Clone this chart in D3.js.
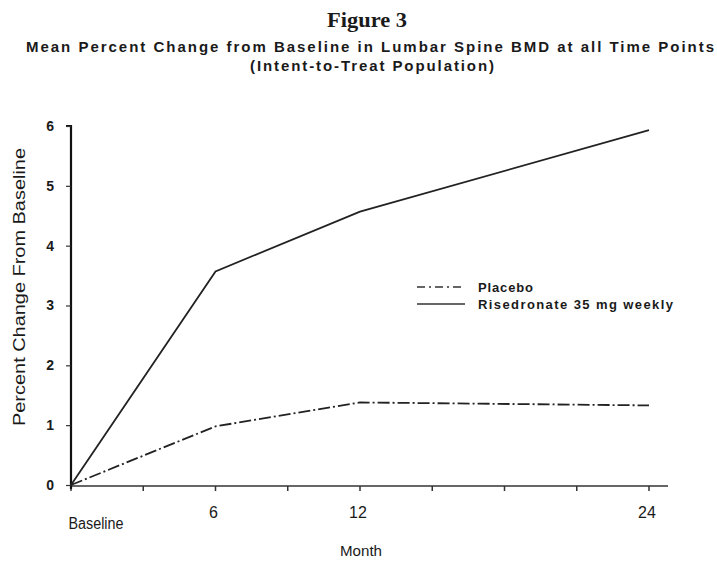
<!DOCTYPE html>
<html>
<head>
<meta charset="utf-8">
<script src="https://cdn.jsdelivr.net/npm/d3@7"></script>
<style>
  body { margin: 0; background: #fff; }
  text { fill: #1a1a1a; }
</style>
</head>
<body>
<script>
var width = 717,
    height = 561;

// data
var months = [0, 6, 12, 24];
var placebo = [0, 0.98, 1.38, 1.33];
var risedronate = [0, 3.57, 4.57, 5.93];
var xTickValues = [0, 3, 6, 9, 12, 15, 18, 21, 24];
var xTickLabels = {0: 'Baseline', 6: '6', 12: '12', 24: '24'};
var yTickValues = [0, 1, 2, 3, 4, 5, 6];
var seriesNames = ['Placebo', 'Risedronate 35 mg weekly'];

var svg = d3.select('body').append('svg')
    .attr('width', width)
    .attr('height', height);

var x = d3.scaleLinear().domain([0, 24]).range([71, 649]),
    y = d3.scaleLinear().domain([0, 6]).range([485, 126]);

var sans = '"Liberation Sans", Arial, sans-serif';

// titles
svg.append('text')
    .attr('x', 367).attr('y', 27)
    .attr('text-anchor', 'middle')
    .attr('textLength', 80)
    .attr('lengthAdjust', 'spacingAndGlyphs')
    .style('font-family', '"Liberation Serif", "DejaVu Serif", serif')
    .style('font-weight', 'bold')
    .style('font-size', '20px')
    .text('Figure 3');

svg.append('text')
    .attr('x', 370).attr('y', 52)
    .attr('text-anchor', 'middle')
    .attr('textLength', 688)
    .attr('lengthAdjust', 'spacing')
    .style('font-family', sans)
    .style('font-size', '15px')
    .style('font-weight', 'bold')
    .text('Mean Percent Change from Baseline in Lumbar Spine BMD at all Time Points');

svg.append('text')
    .attr('x', 372).attr('y', 71)
    .attr('text-anchor', 'middle')
    .attr('textLength', 244)
    .attr('lengthAdjust', 'spacing')
    .style('font-family', sans)
    .style('font-size', '15px')
    .style('font-weight', 'bold')
    .text('(Intent-to-Treat Population)');

// x axis (drawn a bit past 24 like the original)
svg.append('line')
    .attr('x1', x(0)).attr('x2', 668)
    .attr('y1', y(0) + 1).attr('y2', y(0) + 1)
    .attr('stroke', '#666')
    .attr('stroke-width', 2);

svg.append('g').selectAll('line')
    .data(xTickValues)
    .enter().append('line')
    .attr('x1', function(d) { return x(d); })
    .attr('x2', function(d) { return x(d); })
    .attr('y1', y(0) + 1)
    .attr('y2', y(0) + 6)
    .attr('stroke', '#333')
    .attr('stroke-width', 1.5);

svg.append('g').selectAll('text')
    .data(xTickValues.filter(function(d) { return xTickLabels[d]; }))
    .enter().append('text')
    .attr('x', function(d) { return d === 0 ? x(d) + 25 : x(d) - 2; })
    .attr('y', function(d) { return d === 0 ? 529 : 518; })
    .attr('text-anchor', 'middle')
    .attr('textLength', function(d) { return d === 0 ? 55 : null; })
    .attr('lengthAdjust', 'spacingAndGlyphs')
    .style('font-family', sans)
    .style('font-size', '16px')
    .text(function(d) { return xTickLabels[d]; });

svg.append('text')
    .attr('x', 361).attr('y', 556)
    .attr('text-anchor', 'middle')
    .attr('textLength', 42)
    .attr('lengthAdjust', 'spacingAndGlyphs')
    .style('font-family', sans)
    .style('font-size', '15px')
    .text('Month');

// y axis
var yAxis = d3.axisLeft(y)
    .tickValues(yTickValues)
    .tickSize(5)
    .tickPadding(12)
    .tickFormat(d3.format('d'));

var gy = svg.append('g')
    .attr('transform', 'translate(' + x(0) + ',0)')
    .call(yAxis);

gy.select('.domain')
    .attr('stroke', '#111')
    .attr('stroke-width', 2.2)
    .attr('d', 'M-5,' + y(6) + 'H0V' + (y(0) + 4));
gy.selectAll('.tick line').attr('stroke', '#333').attr('stroke-width', 1.2);
gy.selectAll('.tick text')
    .style('font-family', sans)
    .style('font-size', '14px')
    .style('font-weight', 'bold')
    .attr('fill', '#222');

svg.append('text')
    .attr('transform', 'translate(25,' + 287 + ')rotate(-90)')
    .attr('text-anchor', 'middle')
    .attr('textLength', 278)
    .attr('lengthAdjust', 'spacingAndGlyphs')
    .style('font-family', sans)
    .style('font-size', '16px')
    .text('Percent Change From Baseline');

// series
var line = d3.line()
    .x(function(d) { return x(d[0]); })
    .y(function(d) { return y(d[1]); });

var series = [
    {name: seriesNames[0], values: d3.zip(months, placebo), dash: '12,3,2,3'},
    {name: seriesNames[1], values: d3.zip(months, risedronate), dash: null}
];

svg.append('g').selectAll('path')
    .data(series)
    .enter().append('path')
    .attr('d', function(d) { return line(d.values); })
    .attr('fill', 'none')
    .attr('stroke', '#222')
    .attr('stroke-width', 1.8)
    .attr('stroke-dasharray', function(d) { return d.dash; });

// legend
var legend = svg.append('g').selectAll('g')
    .data(series)
    .enter().append('g')
    .attr('transform', function(d, i) { return 'translate(417,' + (287 + i * 17) + ')'; });

legend.append('line')
    .attr('x1', 0).attr('x2', function(d, i) { return i ? 48 : 44; })
    .attr('y1', 0).attr('y2', 0)
    .attr('stroke', '#333')
    .attr('stroke-width', 1.5)
    .attr('stroke-dasharray', function(d) { return d.dash ? '8,4,2,4' : null; });

legend.append('text')
    .attr('x', 61).attr('y', 5)
    .attr('textLength', function(d, i) { return i ? 195 : 55; })
    .attr('lengthAdjust', 'spacing')
    .style('font-family', sans)
    .style('font-size', '13px')
    .style('font-weight', 'bold')
    .text(function(d) { return d.name; });
</script>
</body>
</html>
